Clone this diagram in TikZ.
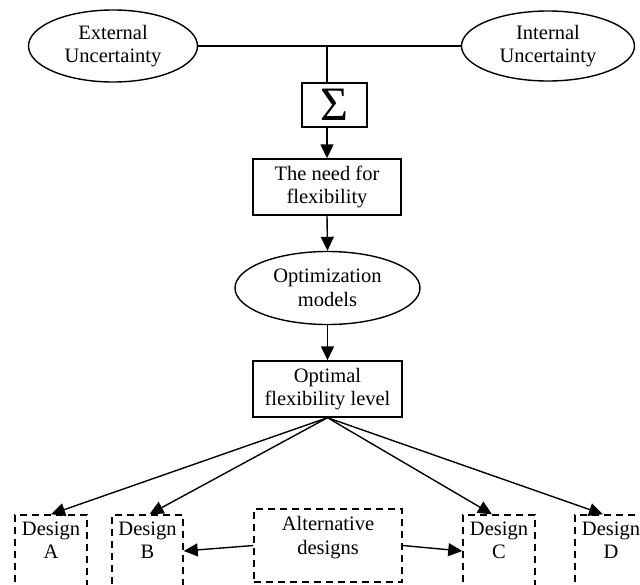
\documentclass[tikz,border=0pt]{standalone}
\usepackage{fontspec}
\setmainfont{Liberation Serif}
\usetikzlibrary{arrows.meta,shapes.geometric,calc}
\begin{document}
\begin{tikzpicture}[x=1pt,y=-1pt,
  every node/.style={font=\fontsize{20.5}{23.5}\selectfont, align=center, inner sep=0pt},
  ell/.style={draw, ellipse, line width=1.4pt},
  box/.style={draw, rectangle, line width=1.4pt},
  dbox/.style={draw, rectangle, line width=1.5pt, dash pattern=on 7pt off 5pt, minimum width=72pt, minimum height=72pt},
  con/.style={line width=1.4pt},
  arr/.style={line width=1.4pt, -{Triangle[length=14pt,width=13pt]}}]
\useasboundingbox (0,0) rectangle (640,584);
\clip (0,0) rectangle (640,584);
% top ellipses
\node[ell, minimum width=169pt, minimum height=72pt] (ext) at (113,46) {External\\Uncertainty};
\node[ell, minimum width=173pt, minimum height=70pt] (int) at (548,46) {Internal\\Uncertainty};
\coordinate (j) at (327,46);
\draw[con] (ext.east) -- (int.west);
% sigma
\node[box, minimum width=65pt, minimum height=44pt] (sig) at (334.5,105) {};
\node[font=\fontsize{48}{50}\selectfont] (sigt) at (334.5,105) {Σ};
\draw[con] (j) -- (j |- sig.north);
% need
\node[box, minimum width=148pt, minimum height=56pt] (need) at (327,187) {The need for\\flexibility};
\draw[arr] (j |- sig.south) -- (need.north);
% optimization
\node[ell, minimum width=185pt, minimum height=73pt] (optm) at (327.5,288) {Optimization\\models};
\draw[arr] (need.south) -- (optm.north);
% optimal
\node[box, minimum width=149pt, minimum height=56pt] (opt) at (327.5,389) {Optimal\\flexibility level};
\draw[arr] (optm.south) -- (opt.north);
% designs
\node[dbox] (dA) at (51,551) {};
\node[dbox, minimum width=71pt] (dB) at (147.5,551) {};
\node[dbox] (dC) at (499,551) {};
\node[dbox] (dD) at (611,551) {};
\node[anchor=north] (tA) at ([yshift=-7pt]dA.north) {Design\\A};
\node[anchor=north] (tB) at ([yshift=-7pt]dB.north) {Design\\B};
\node[anchor=north] (tC) at ([yshift=-7pt]dC.north) {Design\\C};
\node[anchor=north] (tD) at ([yshift=-7pt]dD.north) {Design\\D};
\node[dbox, minimum width=148pt, minimum height=73pt] (alt) at (328,545.5) {};
\node[anchor=north] (talt) at ([yshift=-8pt]alt.north) {Alternative\\designs};
% arrows
\draw[arr] (opt.south) -- (dA.north);
\draw[arr] (opt.south) -- ([xshift=2pt]dB.north);
\draw[arr] (opt.south) -- ([xshift=-7pt]dC.north);
\draw[arr] (opt.south) -- ([xshift=-8pt]dD.north);
\draw[arr] (alt.west) -- (dB.east);
\draw[arr] (alt.east) -- (dC.west);
\end{tikzpicture}
\end{document}
